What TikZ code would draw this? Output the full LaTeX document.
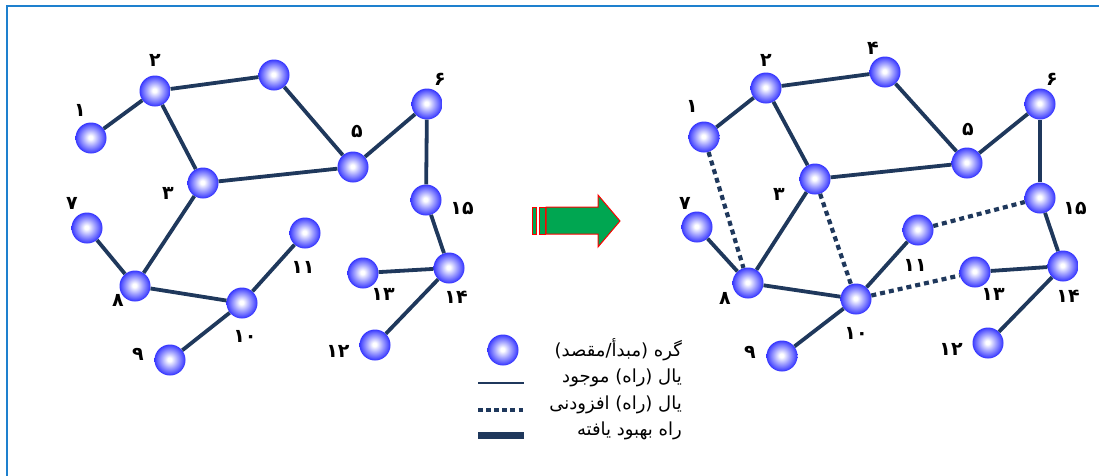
\documentclass[tikz,border=0pt]{standalone}
\usepackage{fontspec}
\newfontfamily\arabicfont[Script=Arabic]{DejaVu Sans}
\TeXXeTstate=1
\definecolor{netedge}{RGB}{31,56,92}
\definecolor{netblue}{RGB}{50,50,255}
\definecolor{frameblue}{RGB}{30,128,206}
\definecolor{arrgreen}{RGB}{0,166,81}
\pgfdeclareradialshading{netball}{\pgfpoint{-1bp}{1bp}}{color(0bp)=(white); color(3bp)=(white); color(13bp)=(netblue!45!white); color(21bp)=(netblue!80!white); color(25bp)=(netblue); color(50bp)=(netblue)}

\begin{document}
\begin{tikzpicture}[x=1pt, y=-1pt,
  netnode/.style={circle, minimum size=31pt, inner sep=0pt, shading=netball},
  road/.style={line width=3.8pt, netedge},
  newroad/.style={road, line width=4.2pt, dash pattern=on 5pt off 4pt},
  numlbl/.style={font=\arabicfont\bfseries\fontsize{19}{22}\selectfont, inner sep=0pt},
  legtxt/.style={font=\arabicfont\fontsize{18}{21}\selectfont, anchor=east, inner sep=0pt}]

\clip (0,0) rectangle (1099,475);
\useasboundingbox (0,0) rectangle (1099,475);
\draw[frameblue, line width=2pt] (7,6) rectangle (1120,500);

% === Shabake-ye mojud ===
\node[netnode] (a1) at (91,138) {};
\node[netnode] (a2) at (155,91) {};
\node[netnode] (a3) at (203,183) {};
\node[netnode] (a4) at (274,75) {};
\node[netnode] (a5) at (353,167) {};
\node[netnode] (a6) at (427,104) {};
\node[netnode] (a7) at (87,228) {};
\node[netnode] (a8) at (135,286) {};
\node[netnode] (a9) at (170,360) {};
\node[netnode] (a10) at (242,303) {};
\node[netnode] (a11) at (305,233) {};
\node[netnode] (a12) at (375,345) {};
\node[netnode] (a13) at (363,273) {};
\node[netnode] (a14) at (449,268) {};
\node[netnode] (a15) at (426,200) {};

\foreach \u/\v in {1/2, 2/4, 2/3, 4/5, 3/5, 5/6, 6/15, 15/14, 14/13, 14/12, 3/8, 7/8, 8/10, 10/11, 10/9}
  \draw[road] (a\u) -- (a\v);

% shomare-ye gereh-ha
\node[numlbl] (la1) at (80,110) {۱};
\node[numlbl] (la2) at (155,60) {۲};
\node[numlbl] (la3) at (168,193) {۳};
\node[numlbl] (la5) at (357,131) {۵};
\node[numlbl] (la6) at (440,79) {۶};
\node[numlbl] (la7) at (72,203) {۷};
\node[numlbl] (la8) at (118,300) {۸};
\node[numlbl] (la9) at (138,354) {۹};
\node[numlbl] (la10) at (245,336) {۱۰};
\node[numlbl] (la11) at (303,267) {۱۱};
\node[numlbl] (la12) at (338,351) {۱۲};
\node[numlbl] (la13) at (383,294) {۱۳};
\node[numlbl] (la14) at (456,297) {۱۴};
\node[numlbl] (la15) at (462,208) {۱۵};

% === Felesh ===
\draw[red, line width=1pt, fill=arrgreen] (532,207) rectangle (536,234);
\draw[red, line width=1pt, fill=arrgreen] (539,207) rectangle (545,234);
\draw[red, line width=1pt, fill=arrgreen] (546,207) -- (598,207) -- (598,195)
  -- (620,221) -- (598,247) -- (598,234) -- (546,234) -- cycle;

% === Shabake-ye behbud yafte ===
\node[netnode] (b1) at (704,137) {};
\node[netnode] (b2) at (766,88) {};
\node[netnode] (b3) at (815,179) {};
\node[netnode] (b4) at (885,72) {};
\node[netnode] (b5) at (967,163) {};
\node[netnode] (b6) at (1040,104) {};
\node[netnode] (b7) at (697,227) {};
\node[netnode] (b8) at (748,283) {};
\node[netnode] (b9) at (782,356) {};
\node[netnode] (b10) at (856,299) {};
\node[netnode] (b11) at (918,230) {};
\node[netnode] (b12) at (988,343) {};
\node[netnode] (b13) at (975,272) {};
\node[netnode] (b14) at (1063,266) {};
\node[netnode] (b15) at (1040,198) {};

\foreach \u/\v in {1/2, 2/4, 2/3, 4/5, 3/5, 5/6, 6/15, 15/14, 14/13, 14/12, 3/8, 7/8, 8/10, 10/11, 10/9}
  \draw[road] (b\u) -- (b\v);
% yal-haye afzudani
\foreach \u/\v in {1/8, 3/10, 11/15, 10/13}
  \draw[newroad] (b\u) -- (b\v);

\node[numlbl] (lb1) at (692,106) {۱};
\node[numlbl] (lb2) at (766,60) {۲};
\node[numlbl] (lb3) at (779,194) {۳};
\node[numlbl] (lb4) at (873,48) {۴};
\node[numlbl] (lb5) at (968,129) {۵};
\node[numlbl] (lb6) at (1052,79) {۶};
\node[numlbl] (lb7) at (685,203) {۷};
\node[numlbl] (lb8) at (725,298) {۸};
\node[numlbl] (lb9) at (750,352) {۹};
\node[numlbl] (lb10) at (856,333) {۱۰};
\node[numlbl] (lb11) at (915,265) {۱۱};
\node[numlbl] (lb12) at (951,349) {۱۲};
\node[numlbl] (lb13) at (993,294) {۱۳};
\node[numlbl] (lb14) at (1068,296) {۱۴};
\node[numlbl] (lb15) at (1075,208) {۱۵};

% === Rahnama ===
\node[netnode] (keynode) at (503,350) {};
\coordinate (ks1) at (478,383);
\coordinate (ke1) at (524,383);
\coordinate (ks2) at (478,410);
\coordinate (ke2) at (524,410);
\coordinate (ks3) at (478,435);
\coordinate (ke3) at (524,435);
\draw[netedge, line width=2.8pt] (ks1) -- (ke1);
\draw[netedge, line width=4pt, dash pattern=on 4.5pt off 3.6pt] (ks2) -- (ke2);
\draw[netedge, line width=7pt] (ks3) -- (ke3);
\node[legtxt] (kt1) at (682,350) {\beginR گره (مبدأ/مقصد)\endR};
\node[legtxt] (kt2) at (682,378) {\beginR یال (راه) موجود\endR};
\node[legtxt] (kt3) at (682,405) {\beginR یال (راه) افزودنی\endR};
\node[legtxt] (kt4) at (682,431) {\beginR راه بهبود یافته\endR};

\end{tikzpicture}
\end{document}
